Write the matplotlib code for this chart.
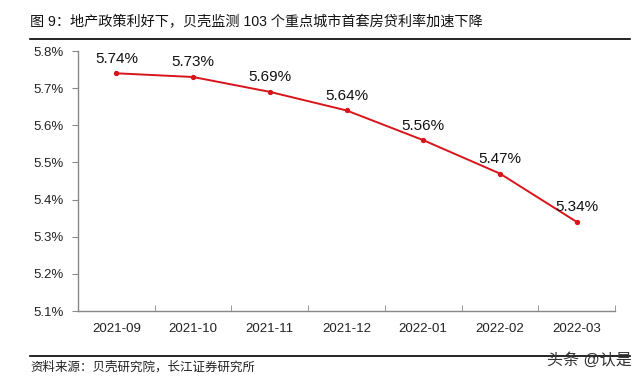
import matplotlib
matplotlib.use("Agg")
import matplotlib.pyplot as plt
from matplotlib.lines import Line2D

plt.rcParams['font.family'] = ['Liberation Sans', 'Noto Sans CJK SC', 'DejaVu Sans']

categories = ["2021-09", "2021-10", "2021-11", "2021-12", "2022-01", "2022-02", "2022-03"]
rates = [5.74, 5.73, 5.69, 5.64, 5.56, 5.47, 5.34]
y_ticks = [5.1, 5.2, 5.3, 5.4, 5.5, 5.6, 5.7, 5.8]
title = "图 9：地产政策利好下，贝壳监测 103 个重点城市首套房贷利率加速下降"
source = "资料来源：贝壳研究院，长江证券研究所"
watermark = "头条 @认是"

W, H = 640, 378
fig = plt.figure(figsize=(W / 100, H / 100), dpi=100)
ax = fig.add_axes([78 / W, 1 - 311 / H, (615 - 78) / W, (311 - 51) / H])

x = list(range(len(categories)))
red = "#d9141b"
ax.plot(x, rates, color=red, lw=1.4, marker="o", ms=2.8, zorder=3)
for xi, v in zip(x, rates):
    ax.annotate(f"{v:.2f}%", (xi, v), xytext=(0, 5.5), textcoords="offset points",
                ha="center", va="bottom", fontsize=11, color="#111111")

ax.set_xlim(-0.5, len(categories) - 0.5)
ax.set_ylim(5.1, 5.8)
ax.set_yticks(y_ticks)
ax.set_yticklabels([f"{t:.1f}%" for t in y_ticks], fontsize=9.5, color="#222222")
ax.set_xticks(x)
ax.set_xticklabels(categories, fontsize=9.5, color="#222222")
ax.tick_params(axis="x", which="major", length=0, pad=9)
ax.set_xticks([i + 0.5 for i in x], minor=True)
ax.tick_params(axis="x", which="minor", direction="in", length=4, color="#888888")
ax.tick_params(axis="y", direction="out", length=4, color="#888888", pad=6)
for s in ["top", "right"]:
    ax.spines[s].set_visible(False)
for s in ["left", "bottom"]:
    ax.spines[s].set_color("#888888")
    ax.spines[s].set_linewidth(1.0)

fig.text(30 / W, 1 - 22 / H, title, fontsize=10.2, ha="left", va="center", color="#111111")
fig.add_artist(Line2D([30 / W, 630 / W], [1 - 39 / H, 1 - 39 / H], color="black", lw=1.2,
                      transform=fig.transFigure))
fig.add_artist(Line2D([30 / W, 630 / W], [1 - 356 / H, 1 - 356 / H], color="black", lw=1.2,
                      transform=fig.transFigure))
fig.text(30 / W, 1 - 367 / H, source, fontsize=9, ha="left", va="center", color="#222222")
fig.text(632 / W, 1 - 360 / H, watermark, fontsize=11.5, ha="right", va="center", color="#333333")

fig.savefig("out.png", dpi=100)
